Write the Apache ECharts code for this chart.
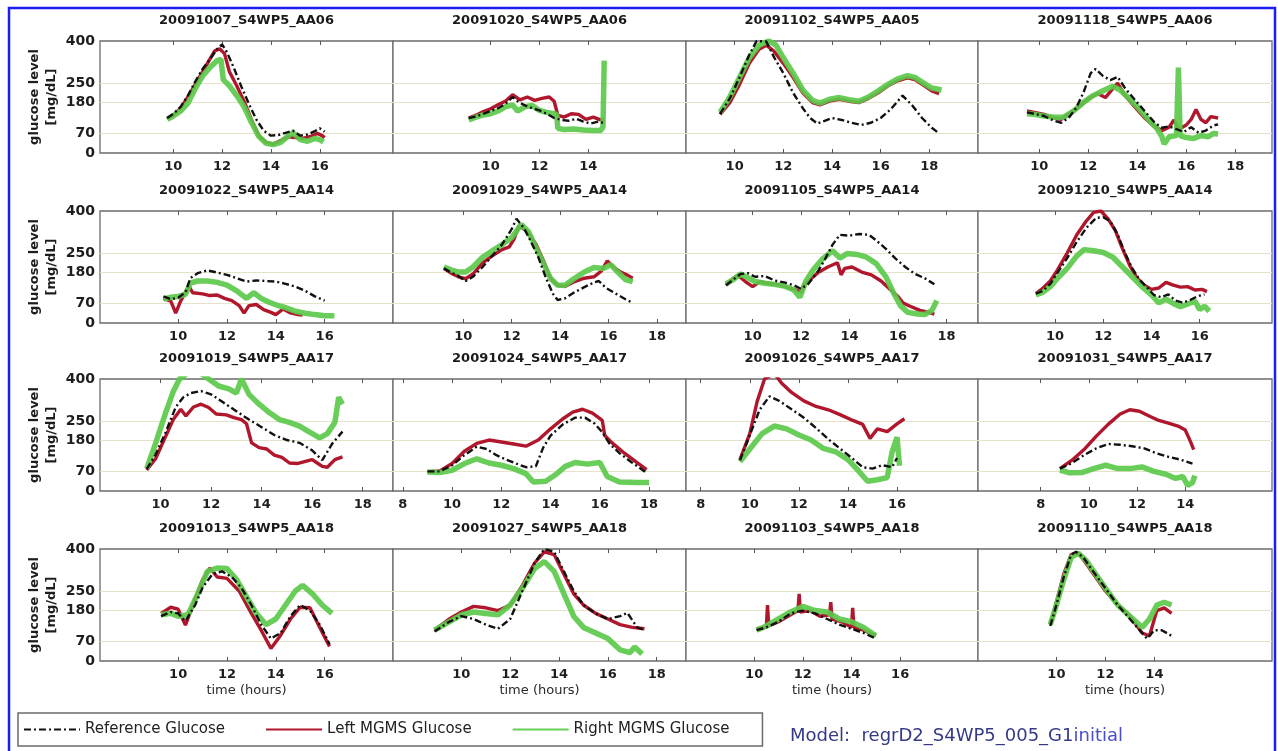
<!DOCTYPE html>
<html>
<head>
<meta charset="utf-8">
<script src="https://cdn.jsdelivr.net/npm/echarts@6/dist/echarts.min.js"></script>
<style>
html,body{margin:0;padding:0;background:#fff;}
#chart{width:1278px;height:751px;}
</style>
</head>
<body>
<div id="chart"></div>
<script>
// Session titles, one per panel (row by row)
const titles = [
  '20091007_S4WP5_AA06','20091020_S4WP5_AA06','20091102_S4WP5_AA05','20091118_S4WP5_AA06',
  '20091022_S4WP5_AA14','20091029_S4WP5_AA14','20091105_S4WP5_AA14','20091210_S4WP5_AA14',
  '20091019_S4WP5_AA17','20091024_S4WP5_AA17','20091026_S4WP5_AA17','20091031_S4WP5_AA17',
  '20091013_S4WP5_AA18','20091027_S4WP5_AA18','20091103_S4WP5_AA18','20091110_S4WP5_AA18'
];
// Time axis limits (hours) per panel
const xLimits = [
  [7,19],[6,18],[8,20],[7.5,19.5],
  [6.8,18.8],[7.1,19.2],[7.25,19.3],[6.8,19],
  [7.6,19.2],[7.6,19.5],[7.4,19.3],[5.4,17.6],
  [6.8,18.8],[7.2,19.2],[7.2,19.2],[6.8,18.8]
];
// Time tick labels per panel
const xTickVals = [
  [10,12,14,16],[10,12,14],[10,12,14,16,18],[10,12,14,16,18],
  [10,12,14,16],[10,12,14,16,18],[10,12,14,16,18],[10,12,14,16],
  [10,12,14,16,18],[8,10,12,14,16,18],[8,10,12,14,16],[8,10,12,14],
  [10,12,14,16],[10,12,14,16,18],[10,12,14,16],[10,12,14]
];
// Glucose tick labels and guide levels (mg/dL)
const yTickVals = [0,70,180,250,400];
const yGuideLevels = [70,180,250];

// Glucose traces: [hour, mg/dL]
const ref1 = [[9.75,125],[10.0,140],[10.3,165],[10.6,205],[10.9,255],[11.2,300],[11.5,335],[11.8,372],[12.0,388],[12.2,360],[12.5,300],[12.8,235],[13.1,175],[13.4,120],[13.7,80],[14.0,62],[14.3,64],[14.6,72],[14.9,80],[15.2,62],[15.5,66],[15.8,78],[16.0,88],[16.2,76]];
const left1 = [[9.75,122],[10.0,135],[10.3,160],[10.6,200],[10.9,245],[11.2,290],[11.5,335],[11.7,365],[11.9,372],[12.1,355],[12.3,290],[12.6,240],[12.9,185],[13.2,120],[13.5,62],[13.8,38],[14.1,32],[14.4,45],[14.7,58],[15.0,55],[15.3,52],[15.6,58],[15.9,70],[16.1,62],[16.2,55]];
const right1 = [[9.75,120],[10.0,132],[10.3,150],[10.6,178],[10.9,230],[11.2,275],[11.5,305],[11.8,330],[11.95,335],[12.05,262],[12.3,240],[12.6,205],[12.9,165],[13.2,110],[13.5,60],[13.8,35],[14.1,30],[14.4,38],[14.7,60],[14.9,72],[15.2,48],[15.5,42],[15.8,52],[16.0,48],[16.15,40]];

const ref2 = [[9.1,125],[9.4,130],[9.7,140],[10.0,150],[10.3,160],[10.6,175],[10.9,200],[11.1,185],[11.4,170],[11.7,160],[12.0,152],[12.3,140],[12.6,125],[12.9,118],[13.2,115],[13.5,122],[13.8,112],[14.1,105],[14.4,112],[14.6,108]];
const left2 = [[9.1,125],[9.4,135],[9.7,148],[10.0,158],[10.3,172],[10.6,185],[10.9,208],[11.2,190],[11.5,200],[11.8,188],[12.1,195],[12.4,200],[12.6,185],[12.75,135],[13.0,128],[13.3,140],[13.6,138],[13.9,120],[14.2,128],[14.5,118],[14.65,122]];
const right2 = [[9.1,118],[9.4,128],[9.7,136],[10.0,140],[10.3,150],[10.6,165],[10.9,172],[11.1,150],[11.4,165],[11.7,170],[12.0,152],[12.3,145],[12.6,140],[12.7,138],[12.75,88],[13.0,84],[13.4,86],[13.8,82],[14.2,80],[14.5,80],[14.6,92],[14.65,330]];

const ref3 = [[9.4,140],[9.8,195],[10.2,270],[10.6,350],[10.9,400],[11.3,398],[11.6,345],[12.0,285],[12.4,215],[12.8,160],[13.1,125],[13.4,105],[13.7,115],[14.0,125],[14.4,118],[14.8,108],[15.2,100],[15.6,108],[16.0,125],[16.4,155],[16.9,205],[17.3,170],[17.7,125],[18.1,90],[18.4,70]];
const left3 = [[9.4,138],[9.8,180],[10.2,245],[10.6,320],[11.0,370],[11.3,385],[11.6,365],[12.0,320],[12.4,270],[12.8,215],[13.2,180],[13.5,172],[13.9,185],[14.3,192],[14.7,185],[15.1,180],[15.5,195],[15.9,215],[16.3,240],[16.7,258],[17.1,268],[17.4,262],[17.8,240],[18.1,222],[18.4,212]];
const right3 = [[9.4,145],[9.8,200],[10.2,270],[10.6,340],[11.0,385],[11.4,400],[11.7,385],[12.0,340],[12.4,285],[12.8,225],[13.2,188],[13.5,178],[13.9,192],[14.3,198],[14.7,190],[15.1,185],[15.5,200],[15.9,222],[16.3,245],[16.7,265],[17.1,276],[17.4,270],[17.8,248],[18.1,232],[18.5,225]];

const ref4 = [[9.5,145],[9.8,140],[10.2,132],[10.6,115],[10.9,108],[11.2,125],[11.5,160],[11.8,215],[12.1,285],[12.3,300],[12.6,275],[12.9,260],[13.2,272],[13.5,232],[13.9,190],[14.3,150],[14.7,110],[15.0,90],[15.3,95],[15.6,85],[15.9,75],[16.2,92],[16.5,72],[16.8,80],[17.1,98],[17.3,102]];
const left4 = [[9.5,150],[9.8,145],[10.2,138],[10.6,125],[10.9,120],[11.2,140],[11.5,158],[11.8,178],[12.1,200],[12.4,212],[12.7,198],[13.0,230],[13.2,250],[13.5,205],[13.9,165],[14.3,125],[14.7,95],[15.0,80],[15.3,92],[15.5,118],[15.7,85],[16.0,100],[16.2,120],[16.4,155],[16.6,120],[16.8,108],[17.0,130],[17.3,125]];
const right4 = [[9.5,140],[9.8,138],[10.2,132],[10.6,128],[11.0,128],[11.4,150],[11.8,180],[12.2,205],[12.6,222],[13.0,238],[13.3,225],[13.6,200],[14.0,165],[14.4,125],[14.8,88],[15.0,60],[15.1,32],[15.3,58],[15.6,62],[15.68,305],[15.75,62],[16.0,55],[16.3,52],[16.6,62],[16.9,58],[17.1,70],[17.3,68]];

const ref5 = [[9.4,95],[9.7,85],[10.0,90],[10.3,110],[10.5,160],[10.8,178],[11.2,188],[11.6,180],[12.0,172],[12.4,160],[12.8,148],[13.2,152],[13.6,150],[14.0,148],[14.4,140],[14.8,130],[15.2,115],[15.6,95],[16.0,80]];
const left5 = [[9.4,88],[9.7,78],[9.9,35],[10.1,78],[10.3,110],[10.45,130],[10.6,108],[11.0,104],[11.3,98],[11.6,100],[11.9,88],[12.2,80],[12.5,62],[12.7,35],[12.9,62],[13.2,66],[13.5,48],[13.8,38],[14.0,30],[14.3,50],[14.6,36],[14.9,30],[15.1,28]];
const right5 = [[9.4,85],[9.7,92],[10.0,95],[10.3,102],[10.5,142],[10.8,150],[11.2,150],[11.6,145],[12.0,135],[12.4,115],[12.8,88],[13.1,108],[13.4,88],[13.7,75],[14.0,65],[14.4,55],[14.8,42],[15.2,35],[15.6,30],[16.0,26],[16.4,26]];

const ref6 = [[9.2,195],[9.5,180],[9.8,168],[10.1,150],[10.4,165],[10.8,200],[11.2,240],[11.6,280],[12.0,335],[12.2,372],[12.5,340],[12.8,290],[13.1,235],[13.4,165],[13.7,105],[13.9,82],[14.2,88],[14.6,110],[15.0,128],[15.4,145],[15.6,150],[15.9,125],[16.3,105],[16.7,85],[17.0,72]];
const left6 = [[9.2,195],[9.5,178],[9.8,165],[10.1,158],[10.4,175],[10.8,215],[11.2,240],[11.6,262],[11.9,272],[12.1,300],[12.3,348],[12.6,330],[13.0,282],[13.3,225],[13.6,160],[13.9,135],[14.2,130],[14.6,148],[15.0,160],[15.4,165],[15.7,185],[15.95,222],[16.2,200],[16.5,182],[16.8,170],[17.0,160]];
const right6 = [[9.2,200],[9.5,190],[9.8,182],[10.1,182],[10.4,200],[10.8,235],[11.2,258],[11.6,280],[12.0,305],[12.4,352],[12.7,325],[13.0,270],[13.3,215],[13.6,160],[13.9,135],[14.2,135],[14.6,160],[15.0,182],[15.4,198],[15.8,195],[16.1,208],[16.4,180],[16.7,155],[17.0,148]];

const ref7 = [[8.9,135],[9.2,155],[9.5,175],[9.8,178],[10.1,165],[10.5,168],[10.9,152],[11.3,145],[11.7,135],[12.0,122],[12.3,140],[12.7,185],[13.0,230],[13.3,280],[13.6,315],[14.0,312],[14.4,318],[14.8,315],[15.1,295],[15.5,265],[15.9,230],[16.3,200],[16.7,175],[17.1,160],[17.5,138]];
const left7 = [[8.9,135],[9.2,160],[9.4,170],[9.7,148],[10.0,130],[10.3,148],[10.6,142],[11.0,138],[11.4,128],[11.8,118],[12.0,110],[12.1,135],[12.3,150],[12.7,180],[13.1,200],[13.5,215],[13.65,172],[13.8,195],[14.1,200],[14.5,182],[14.9,172],[15.3,150],[15.7,118],[16.0,95],[16.2,72],[16.5,60],[16.9,45],[17.2,40],[17.5,32]];
const right7 = [[8.9,140],[9.2,155],[9.5,175],[9.8,162],[10.1,148],[10.5,142],[10.9,138],[11.3,132],[11.7,118],[11.95,92],[12.2,150],[12.5,190],[12.9,230],[13.3,258],[13.6,232],[13.9,248],[14.3,245],[14.7,235],[15.1,212],[15.5,165],[15.8,110],[16.1,62],[16.4,38],[16.8,32],[17.1,30],[17.4,45],[17.6,80]];

const ref8 = [[9.2,105],[9.5,115],[9.8,140],[10.1,180],[10.5,232],[10.9,290],[11.3,340],[11.7,375],[12.0,378],[12.3,362],[12.6,315],[12.9,250],[13.2,195],[13.5,155],[13.8,128],[14.1,100],[14.4,92],[14.7,102],[15.0,80],[15.3,72],[15.6,82],[15.9,95],[16.2,102]];
const left8 = [[9.2,105],[9.5,125],[9.8,150],[10.1,190],[10.5,250],[10.9,315],[11.3,365],[11.6,395],[11.9,400],[12.2,372],[12.5,330],[12.8,265],[13.1,205],[13.4,160],[13.7,135],[14.0,120],[14.3,125],[14.6,145],[14.9,135],[15.2,128],[15.5,130],[15.8,118],[16.1,120],[16.3,112]];
const right8 = [[9.2,100],[9.5,110],[9.8,130],[10.1,160],[10.5,195],[10.9,240],[11.2,262],[11.6,258],[12.0,252],[12.4,235],[12.8,200],[13.2,165],[13.6,130],[14.0,100],[14.3,72],[14.6,85],[14.9,70],[15.2,58],[15.5,68],[15.8,78],[16.0,48],[16.2,60],[16.4,42]];

const ref9 = [[9.45,78],[9.8,130],[10.2,210],[10.6,300],[10.9,335],[11.2,350],[11.6,357],[12.0,345],[12.5,315],[13.0,285],[13.5,255],[14.0,228],[14.5,200],[15.0,182],[15.5,172],[16.0,145],[16.4,110],[16.8,170],[17.2,212]];
const left9 = [[9.45,75],[9.8,115],[10.2,195],[10.5,255],[10.8,292],[11.0,268],[11.3,300],[11.6,310],[11.9,298],[12.2,275],[12.6,272],[12.9,262],[13.2,255],[13.4,240],[13.6,172],[13.9,155],[14.2,150],[14.5,128],[14.8,120],[15.1,100],[15.4,98],[15.7,105],[16.0,112],[16.2,100],[16.4,88],[16.6,85],[16.9,112],[17.2,122]];
const right9 = [[9.45,80],[9.8,170],[10.2,280],[10.5,355],[10.75,400],[11.2,430],[11.6,420],[11.9,400],[12.3,375],[12.7,365],[13.0,350],[13.2,400],[13.5,345],[13.9,310],[14.3,280],[14.7,255],[15.1,245],[15.5,232],[15.9,210],[16.3,190],[16.6,205],[16.9,245],[17.05,335],[17.2,310]];

const ref10 = [[9.0,70],[9.5,70],[10.0,92],[10.5,128],[11.0,158],[11.4,150],[11.8,128],[12.2,112],[12.6,98],[13.0,85],[13.4,88],[13.7,155],[14.0,198],[14.5,238],[15.0,262],[15.4,262],[15.8,240],[16.1,210],[16.4,168],[16.8,135],[17.3,102],[17.9,65]];
const left10 = [[9.0,68],[9.5,72],[10.0,98],[10.5,142],[11.0,170],[11.5,182],[12.0,175],[12.5,168],[13.0,160],[13.5,182],[14.0,222],[14.5,258],[14.9,282],[15.3,292],[15.7,278],[16.1,252],[16.2,198],[16.5,172],[17.0,135],[17.5,102],[17.9,76]];
const right10 = [[9.0,68],[9.5,66],[10.0,74],[10.5,98],[11.0,115],[11.5,100],[12.0,92],[12.5,80],[13.0,62],[13.3,32],[13.8,35],[14.2,58],[14.6,88],[15.0,102],[15.5,96],[16.0,102],[16.3,52],[16.8,32],[17.5,30],[18.0,30]];

const ref11 = [[9.6,110],[10.0,200],[10.4,290],[10.8,338],[11.2,322],[11.7,292],[12.2,262],[12.7,225],[13.2,185],[13.7,150],[14.2,115],[14.6,85],[15.0,80],[15.4,92],[15.8,85],[16.0,118]];
const left11 = [[9.6,112],[10.0,205],[10.3,320],[10.6,400],[11.0,420],[11.3,385],[11.7,352],[12.2,322],[12.7,302],[13.2,290],[13.7,272],[14.2,252],[14.6,238],[14.9,188],[15.2,222],[15.6,212],[16.0,240],[16.3,258]];
const right11 = [[9.6,105],[10.0,150],[10.5,205],[11.0,232],[11.5,222],[12.0,200],[12.5,182],[13.0,152],[13.5,140],[14.0,112],[14.4,75],[14.8,35],[15.2,40],[15.6,48],[15.8,140],[16.0,192],[16.1,90]];

const ref12 = [[8.8,80],[9.3,100],[9.8,128],[10.3,152],[10.8,168],[11.3,165],[11.8,160],[12.3,152],[12.8,135],[13.3,122],[13.8,112],[14.3,98]];
const left12 = [[8.8,80],[9.3,110],[9.8,148],[10.3,195],[10.8,238],[11.3,275],[11.7,290],[12.1,285],[12.5,268],[12.9,252],[13.3,242],[13.7,232],[14.0,218],[14.2,180],[14.35,148]];
const right12 = [[8.8,75],[9.2,65],[9.7,66],[10.2,80],[10.7,92],[11.2,80],[11.7,80],[12.2,86],[12.7,70],[13.2,60],[13.6,45],[13.9,52],[14.1,20],[14.3,30],[14.4,55]];

const ref13 = [[9.3,160],[9.7,175],[10.0,170],[10.3,142],[10.7,200],[11.0,262],[11.4,310],[11.8,320],[12.2,300],[12.6,260],[13.0,200],[13.4,130],[13.8,80],[14.2,100],[14.6,160],[15.0,200],[15.4,180],[15.8,130],[16.2,60]];
const left13 = [[9.3,170],[9.7,192],[10.0,185],[10.3,128],[10.7,222],[11.0,290],[11.3,332],[11.6,300],[12.0,295],[12.5,250],[13.0,170],[13.4,110],[13.8,45],[14.2,92],[14.6,150],[15.0,192],[15.4,190],[15.8,120],[16.2,52]];
const right13 = [[9.3,165],[9.7,170],[10.0,160],[10.4,165],[10.8,240],[11.2,320],[11.6,332],[12.0,330],[12.4,290],[12.8,230],[13.2,170],[13.6,130],[14.0,150],[14.4,200],[14.8,250],[15.1,270],[15.5,240],[15.9,200],[16.3,170]];

const ref14 = [[8.9,105],[9.5,140],[10.0,160],[10.5,150],[11.0,130],[11.5,115],[12.0,150],[12.5,250],[13.0,350],[13.4,400],[13.8,390],[14.2,320],[14.6,250],[15.0,200],[15.5,170],[16.0,150],[16.5,160],[16.8,172],[17.2,120],[17.5,110]];
const left14 = [[8.9,110],[9.5,150],[10.0,175],[10.5,195],[11.0,190],[11.5,180],[12.0,200],[12.5,270],[13.0,350],[13.4,390],[13.8,380],[14.2,310],[14.6,240],[15.0,200],[15.5,170],[16.0,150],[16.5,130],[17.0,120],[17.5,115]];
const right14 = [[8.9,110],[9.5,140],[10.0,165],[10.5,175],[11.0,170],[11.5,165],[12.0,200],[12.5,260],[13.0,330],[13.4,355],[13.8,320],[14.2,240],[14.6,160],[15.0,120],[15.5,100],[16.0,80],[16.5,40],[16.9,30],[17.1,50],[17.4,25]];

const ref15 = [[10.1,110],[10.5,120],[11.0,140],[11.5,170],[12.0,180],[12.5,170],[13.0,150],[13.5,130],[14.0,115],[14.5,100],[15.0,80]];
const left15 = [[10.1,115],[10.5,120],[10.55,200],[10.6,125],[11.0,140],[11.5,165],[11.8,180],[11.85,240],[11.9,175],[12.3,180],[12.7,160],[13.1,165],[13.15,210],[13.2,150],[13.6,140],[14.0,120],[14.05,190],[14.1,120],[14.5,110],[15.0,90]];
const right15 = [[10.1,110],[10.5,125],[11.0,150],[11.5,175],[12.0,195],[12.5,180],[13.0,175],[13.5,150],[14.0,140],[14.5,120],[15.0,90]];

const ref16 = [[9.75,125],[10.0,200],[10.3,300],[10.6,380],[10.8,390],[11.1,370],[11.5,320],[12.0,260],[12.5,200],[13.0,150],[13.4,110],[13.7,80],[14.0,110],[14.3,110],[14.7,90]];
const left16 = [[9.75,130],[10.0,210],[10.3,310],[10.6,380],[10.9,385],[11.2,350],[11.6,300],[12.0,250],[12.5,200],[13.0,160],[13.5,100],[13.8,90],[14.1,180],[14.4,190],[14.7,170]];
const right16 = [[9.75,130],[10.0,200],[10.3,290],[10.6,370],[10.9,385],[11.2,360],[11.6,310],[12.0,260],[12.5,200],[13.0,160],[13.5,120],[13.8,150],[14.1,200],[14.4,210],[14.7,200]];

const refTraces = [ref1,ref2,ref3,ref4,ref5,ref6,ref7,ref8,ref9,ref10,ref11,ref12,ref13,ref14,ref15,ref16];
const leftTraces = [left1,left2,left3,left4,left5,left6,left7,left8,left9,left10,left11,left12,left13,left14,left15,left16];
const rightTraces = [right1,right2,right3,right4,right5,right6,right7,right8,right9,right10,right11,right12,right13,right14,right15,right16];

// Panel layout (pixels)
const colLeft = [100, 393, 686, 978];
const colWidth = [293, 293, 292, 294];
const rowTop = [41, 211, 379, 549];
const panelHeight = 112;

const FONT = 'DejaVu Sans';
const RED = '#b0172c';
const GREEN = '#5cc94b';

const grids = [], xAxes = [], yAxes = [], series = [];
for (let i = 0; i < 16; i++) {
  const r = Math.floor(i / 4), c = i % 4;
  grids.push({
    left: colLeft[c], top: rowTop[r], width: colWidth[c], height: panelHeight,
    show: true, borderColor: '#6b6b6b', borderWidth: 1.3, backgroundColor: '#ffffff'
  });
  // bottom time axis
  xAxes.push({
    gridIndex: i, type: 'value', position: 'bottom',
    min: xLimits[i][0], max: xLimits[i][1],
    axisLine: { show: false },
    axisTick: { show: true, inside: true, length: 4, customValues: xTickVals[i], lineStyle: { color: '#555' } },
    axisLabel: { customValues: xTickVals[i], margin: 7, fontFamily: FONT, fontWeight: 'bold', fontSize: 13, color: '#1e1e1e' },
    splitLine: { show: false },
    name: r === 3 ? 'time (hours)' : '', nameLocation: 'middle', nameGap: 23,
    nameTextStyle: { fontFamily: FONT, fontSize: 13, color: '#2a2a2a' }
  });
  // top axis carries the panel title
  xAxes.push({
    gridIndex: i, type: 'value', position: 'top',
    min: xLimits[i][0], max: xLimits[i][1],
    axisLine: { show: false },
    axisTick: { show: true, inside: true, length: 4, customValues: xTickVals[i], lineStyle: { color: '#555' } },
    axisLabel: { show: false },
    splitLine: { show: false },
    name: titles[i], nameLocation: 'middle', nameGap: 14,
    nameTextStyle: { fontFamily: FONT, fontWeight: 'bold', fontSize: 13, color: '#1a1a1a' }
  });
  yAxes.push({
    gridIndex: i, type: 'value', min: 0, max: 400,
    axisLine: { show: false },
    axisTick: { show: false, customValues: yGuideLevels },
    axisLabel: { show: c === 0, customValues: yTickVals, margin: 5, fontFamily: FONT, fontWeight: 'bold', fontSize: 14, color: '#1e1e1e' },
    splitLine: { show: true, lineStyle: { color: '#e6e2c8', width: 1 } },
    name: c === 0 ? 'glucose level\n[mg/dL]' : '', nameLocation: 'middle', nameGap: 40, nameRotate: 90,
    nameTextStyle: { fontFamily: FONT, fontWeight: 'bold', fontSize: 13, lineHeight: 17, color: '#1e1e1e' }
  });
  series.push({
    name: 'Left MGMS Glucose', type: 'line', xAxisIndex: 2 * i, yAxisIndex: i,
    data: leftTraces[i], symbol: 'none', z: 2,
    lineStyle: { color: RED, width: 3.4 }, itemStyle: { color: RED }
  });
  series.push({
    name: 'Right MGMS Glucose', type: 'line', xAxisIndex: 2 * i, yAxisIndex: i,
    data: rightTraces[i], symbol: 'none', z: 3,
    lineStyle: { color: GREEN, width: 5.5, opacity: 0.92 }, itemStyle: { color: GREEN }
  });
  series.push({
    name: 'Reference Glucose', type: 'line', xAxisIndex: 2 * i, yAxisIndex: i,
    data: refTraces[i], symbol: 'none', z: 4,
    lineStyle: { color: '#111', width: 2.4, type: [7, 3, 2, 3] }, itemStyle: { color: '#111' }
  });
}

const chart = echarts.init(document.getElementById('chart'), null, { renderer: 'canvas' });
chart.setOption({
  animation: false,
  backgroundColor: '#ffffff',
  grid: grids,
  xAxis: xAxes,
  yAxis: yAxes,
  series: series,
  legend: {
    data: ['Reference Glucose', 'Left MGMS Glucose', 'Right MGMS Glucose'],
    left: 18, top: 713, orient: 'horizontal',
    itemWidth: 56, itemHeight: 12, itemGap: 40,
    padding: [9, 33, 9, 5],
    borderColor: '#6b6b6b', borderWidth: 1.5,
    itemStyle: { opacity: 0 },
    textStyle: { fontFamily: FONT, fontSize: 15, color: '#222' },
    selectedMode: false
  },
  graphic: [
    {
      type: 'rect', silent: true, z: 100,
      shape: { x: 9, y: 8, width: 1266, height: 760 },
      style: { fill: 'none', stroke: '#1c1cf5', lineWidth: 2.5 }
    },
    {
      type: 'text', silent: true, left: 790, top: 727,
      style: {
        text: '{a|Model:  regrD2_S4WP5_005_G1}{b|initial}',
        rich: {
          a: { fontFamily: FONT, fontSize: 18, fill: '#363a86' },
          b: { fontFamily: FONT, fontSize: 18, fill: '#4a4ec8' }
        }
      }
    }
  ]
});
</script>
</body>
</html>
